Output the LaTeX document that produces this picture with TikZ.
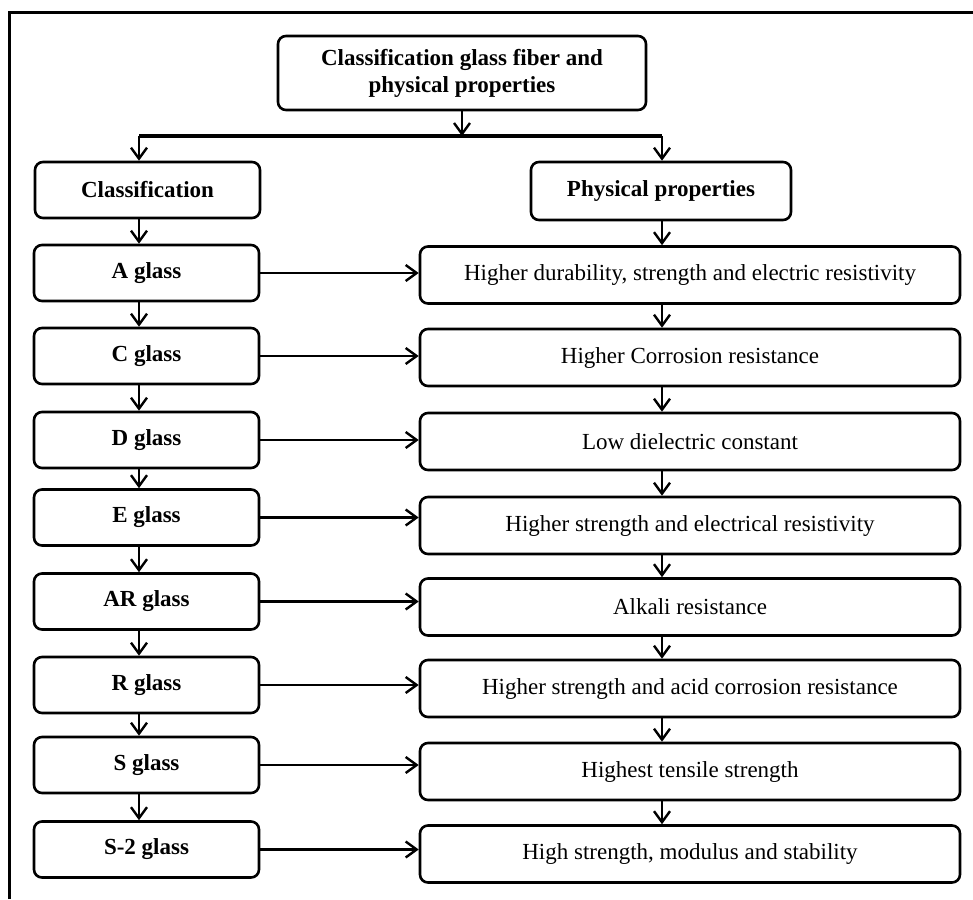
\documentclass[tikz,border=0pt]{standalone}
\usepackage{fontspec}
\setmainfont{Liberation Serif}
\usetikzlibrary{arrows.meta,positioning,calc}
\tikzset{
  headbox/.style={draw, line width=2.6pt, rounded corners=8pt, align=center,
                  font=\fontsize{23}{27}\selectfont\bfseries, inner sep=0pt},
  classbox/.style={draw, line width=2.6pt, rounded corners=8pt, minimum width=225pt,
                   minimum height=56pt, font=\fontsize{23}{27}\selectfont\bfseries,
                   inner sep=0pt},
  propbox/.style={draw, line width=2.6pt, rounded corners=8pt, minimum width=540pt,
                  minimum height=57pt, font=\fontsize{23}{27}\selectfont, inner sep=0pt},
  flowarrow/.style={-{Straight Barb[length=11pt,width=16pt]}, line width=2.4pt},
  busline/.style={line width=4.5pt},
  framerule/.style={line width=3pt}
}

\begin{document}
\begin{tikzpicture}[x=1pt, y=-1pt]
    \useasboundingbox (0,0) rectangle (973,899);
    \def\xL{146.5} \def\xR{690}

    % Frame
    \draw[framerule] (9.5,899) -- (9.5,13) -- (973,13);

    % Heads
    \node[headbox, minimum width=368pt, minimum height=74pt] (top) at (462,73)
      {Classification glass fiber and\\physical properties};
    \node[classbox] (cls) at (147.5,190) {Classification};
    \node[headbox, minimum width=260pt, minimum height=58pt] (phy) at (661,191)
      {Physical properties};

    % Bus
    \coordinate (busL) at (139,136);
    \coordinate (busR) at (662,136);
    \draw[busline] (busL) -- (busR);
    \draw[flowarrow] (top.south) -- (top.south |- busL);
    \draw[flowarrow] (busL) -- (busL |- cls.north);
    \draw[flowarrow] (busR) -- (busR |- phy.north);

    % Glass types
    \node[classbox] (ga)  at (\xL,273)   {A glass};
    \node[classbox] (gc)  at (\xL,356)   {C glass};
    \node[classbox] (gd)  at (\xL,440)   {D glass};
    \node[classbox] (ge)  at (\xL,517.5) {E glass};
    \node[classbox] (gar) at (\xL,601.5) {AR glass};
    \node[classbox] (gr)  at (\xL,685)   {R glass};
    \node[classbox] (gs)  at (\xL,765)   {S glass};
    \node[classbox] (gs2) at (\xL,849.5) {S-2 glass};

    % Properties
    \node[propbox] (pa)  at (\xR,275)   {Higher durability, strength and electric resistivity};
    \node[propbox] (pc)  at (\xR,357.5) {Higher Corrosion resistance};
    \node[propbox] (pd)  at (\xR,441.5) {Low dielectric constant};
    \node[propbox] (pe)  at (\xR,525.5) {Higher strength and electrical resistivity};
    \node[propbox] (par) at (\xR,607)   {Alkali resistance};
    \node[propbox] (pr)  at (\xR,688.5) {Higher strength and acid corrosion resistance};
    \node[propbox] (ps)  at (\xR,771.5) {Highest tensile strength};
    \node[propbox] (ps2) at (\xR,854)   {High strength, modulus and stability};

    % Chains
    \draw[flowarrow] (cls.south -| busL) -- (ga.north -| busL);
    \draw[flowarrow] (phy.south -| busR) -- (pa.north -| busR);
    \foreach \a/\b in {ga/gc, gc/gd, gd/ge, ge/gar, gar/gr, gr/gs, gs/gs2}
      \draw[flowarrow] (\a.south -| busL) -- (\b.north -| busL);
    \foreach \a/\b in {pa/pc, pc/pd, pd/pe, pe/par, par/pr, pr/ps, ps/ps2}
      \draw[flowarrow] (\a.south -| busR) -- (\b.north -| busR);

    % Links
    \foreach \g/\p in {ga/pa, gc/pc, gd/pd, ge/pe, gar/par, gr/pr, gs/ps, gs2/ps2}
      \draw[flowarrow] (\g.east) -- (\g.east -| \p.west);
  \end{tikzpicture}
\end{document}
